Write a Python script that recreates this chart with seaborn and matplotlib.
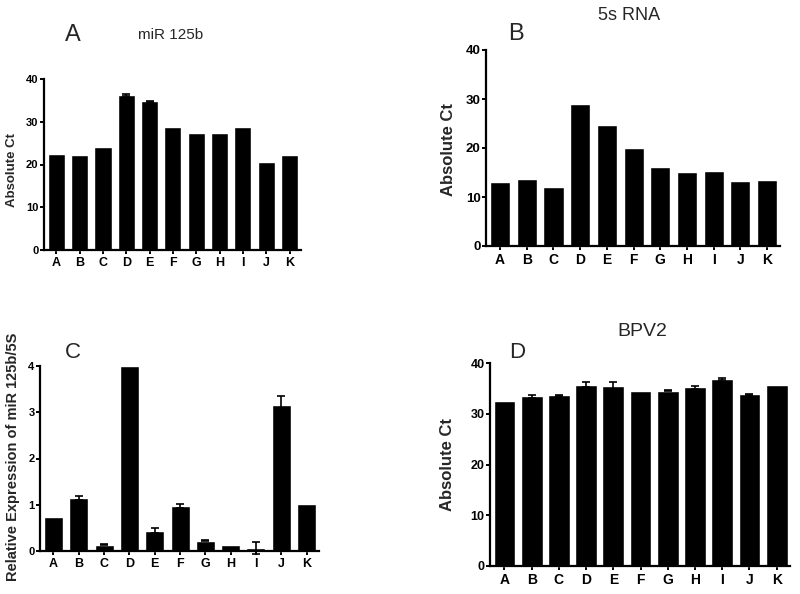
import pandas as pd
import seaborn as sns
import matplotlib.pyplot as plt

samples = ['A', 'B', 'C', 'D', 'E', 'F', 'G', 'H', 'I', 'J', 'K']

mir125b_ct = [22.5, 22.3, 24.0, 36.3, 34.8, 28.8, 27.3, 27.3, 28.7, 20.6, 22.3]
mir125b_err = [0.0, 0.0, 0.0, 0.3, 0.1, 0.0, 0.0, 0.0, 0.0, 0.0, 0.0]

rna5s_ct = [13.1, 13.6, 12.1, 28.9, 24.6, 19.9, 16.1, 15.2, 15.4, 13.3, 13.5]
rna5s_err = [0.0, 0.0, 0.0, 0.0, 0.0, 0.0, 0.0, 0.0, 0.0, 0.0, 0.0]

rel_expr = [0.73, 1.15, 0.14, 3.99, 0.44, 0.98, 0.22, 0.13, 0.07, 3.16, 1.02]
rel_err = [0.0, 0.04, 0.02, 0.0, 0.06, 0.04, 0.01, 0.0, 0.13, 0.19, 0.0]

bpv2_ct = [32.6, 33.4, 33.6, 35.7, 35.4, 34.5, 34.5, 35.2, 36.8, 33.8, 35.6]
bpv2_err = [0.0, 0.2, 0.1, 0.5, 0.9, 0.0, 0.1, 0.3, 0.2, 0.15, 0.0]

sns.set_theme(style='ticks', rc={'axes.edgecolor': 'black', 'xtick.color': 'black',
                                 'ytick.color': 'black', 'axes.linewidth': 1.6,
                                 'xtick.major.width': 1.4, 'ytick.major.width': 1.4,
                                 'xtick.major.size': 3, 'ytick.major.size': 3})
plt.rcParams['font.family'] = ['Liberation Sans', 'DejaVu Sans']

W, H = 800, 594
fig = plt.figure(figsize=(8, 5.94), dpi=100)


def draw_panel(box, values, errs, ylabel, ymax, yticks, lab_pos, ysize, xsize, lsize, width):
    # box is left, top, right, bottom in pixels
    l, t, r, b = box
    ax = fig.add_axes([l / W, 1 - b / H, (r - l) / W, (b - t) / H])
    df = pd.DataFrame({'sample': samples, 'value': values, 'err': errs})
    sns.barplot(data=df, x='sample', y='value', color='black', saturation=1,
                width=width, ax=ax, errorbar=None)
    for p in ax.patches:
        p.set_clip_on(False)
    # only bars with a visible SEM get an error bar
    df['pos'] = range(len(samples))
    sem = df[df['err'] > 0]
    if len(sem):
        ax.errorbar(sem['pos'], sem['value'], yerr=sem['err'], fmt='none', ecolor='black',
                    elinewidth=1.2, capsize=3, capthick=1.2, clip_on=False)
    ax.set_ylim(0, ymax)
    ax.set_xlim(-0.53, 10.49)
    ax.set_yticks(yticks)
    ax.set_xlabel('')
    ax.set_ylabel(ylabel, fontsize=lsize, fontweight='bold', va='center')
    ax.yaxis.set_label_coords(*lab_pos)
    ax.tick_params(axis='y', labelsize=ysize, pad=1)
    ax.tick_params(axis='x', labelsize=xsize, pad=2)
    for lbl in ax.get_xticklabels() + ax.get_yticklabels():
        lbl.set_fontweight('bold')
    sns.despine(ax=ax)
    return ax


def label(x, y, s, size):
    fig.text(x / W, 1 - y / H, s, fontsize=size, ha='center', va='center')


draw_panel((44, 79, 301, 250), mir125b_ct, mir125b_err, 'Absolute Ct', 40,
           [0, 10, 20, 30, 40], (-0.125, 0.47), 8, 9, 9.5, 0.73)
label(73, 35, 'A', 17)
label(171, 35, 'miR 125b', 11)

draw_panel((486, 50, 780, 246), rna5s_ct, rna5s_err, 'Absolute Ct', 40,
           [0, 10, 20, 30, 40], (-0.126, 0.49), 9.5, 10, 12, 0.75)
label(516, 34, 'B', 17)
label(629, 15, '5s RNA', 13)

draw_panel((40, 366, 319, 551), rel_expr, rel_err, 'Relative Expression of miR 125b/5S', 4,
           [0, 1, 2, 3, 4], (-0.097, 0.51), 8, 9, 10.5, 0.75)
label(73, 352, 'C', 16)

draw_panel((490, 363, 790, 566), bpv2_ct, bpv2_err, 'Absolute Ct', 40,
           [0, 10, 20, 30, 40], (-0.143, 0.5), 9, 10, 12, 0.8)
label(517, 352, 'D', 16)
label(642, 331, 'BPV2', 14)

plt.savefig('out.png', dpi=100)
